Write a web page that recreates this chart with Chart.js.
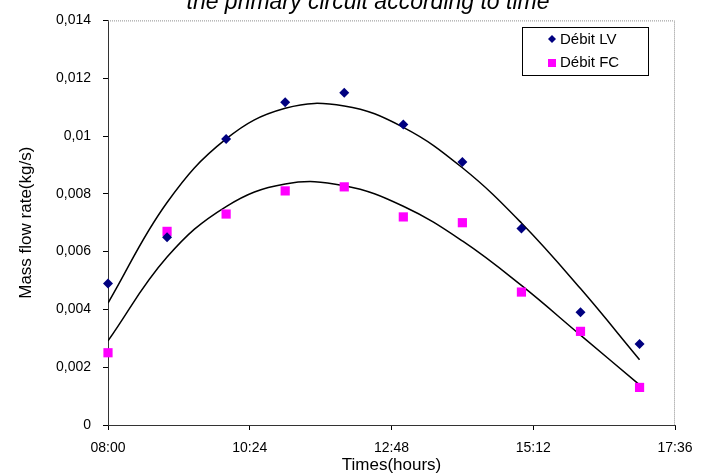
<!DOCTYPE html>
<html><head><meta charset="utf-8">
<script src="https://cdn.jsdelivr.net/npm/chart.js@4.4.0/dist/chart.umd.min.js"></script>
<style>html,body{margin:0;padding:0;background:#fff;}#wrap{width:712px;height:474px;position:relative;}</style>
</head><body><div id="wrap"><canvas id="c" width="712" height="474"></canvas></div>
<script>
// ---- data ----
const chartTitle = 'the primary circuit according to time';
const times = ['08:00','09:00','10:00','11:00','12:00','13:00','14:00','15:00','16:00','17:00'];
const debitLV = [0.0049, 0.0065, 0.0099, 0.01117, 0.0115, 0.0104, 0.0091, 0.0068, 0.0039, 0.0028];
const debitFC = [0.0025, 0.0067, 0.0073, 0.0081, 0.00824, 0.0072, 0.0070, 0.0046, 0.00324, 0.0013];
const trendLV = [0.00422, 0.0077, 0.0099, 0.01096, 0.01104, 0.0103, 0.0089, 0.00699, 0.00472, 0.00226];
const trendFC = [0.00291, 0.00581, 0.00756, 0.00834, 0.00828, 0.00757, 0.00637, 0.00483, 0.00311, 0.00139];
const xTickLabels = ['08:00','10:24','12:48','15:12','17:36'];
const yTickLabels = ['0','0,002','0,004','0,006','0,008','0,01','0,012','0,014'];
const yTickValues = [0, 0.002, 0.004, 0.006, 0.008, 0.010, 0.012, 0.014];
const seriesNames = ['Débit LV', 'Débit FC'];
const xTitle = 'Times(hours)';
const yTitle = 'Mass flow rate(kg/s)';

const toH = s => { const [h, m] = s.split(':').map(Number); return h + m / 60; };
const xs = times.map(toH);
const xTickValues = xTickLabels.map(toH);
const pts = arr => arr.map((v, i) => ({x: xs[i], y: v}));

const FONT = "'Liberation Sans', Arial, sans-serif";
const NAVY = '#000080', MAGENTA = '#FF00FF';

const decor = {
  id: 'decor',
  beforeDatasetsDraw(chart) {
    const {ctx, chartArea: a} = chart;
    ctx.save();
    ctx.strokeStyle = '#8c8c8c';
    ctx.lineWidth = 1;
    ctx.setLineDash([1, 1]);
    ctx.beginPath();
    ctx.moveTo(a.left, a.top + 0.5);
    ctx.lineTo(a.right - 0.5, a.top + 0.5);
    ctx.lineTo(a.right - 0.5, a.bottom);
    ctx.stroke();
    ctx.restore();
  },
  afterDraw(chart) {
    const {ctx} = chart;
    ctx.save();
    // title (second line, partly cut at top)
    ctx.fillStyle = '#000';
    ctx.font = "italic 23px " + FONT;
    ctx.textAlign = 'center';
    ctx.textBaseline = 'alphabetic';
    ctx.fillText(chartTitle, 368, 9);
    // legend
    const bx = 522, by = 27, bw = 126, bh = 48;
    ctx.fillStyle = '#fff';
    ctx.fillRect(bx, by, bw, bh);
    ctx.strokeStyle = '#000';
    ctx.lineWidth = 1;
    ctx.strokeRect(bx + 0.5, by + 0.5, bw, bh);
    ctx.fillStyle = NAVY;
    ctx.beginPath();
    ctx.moveTo(552, 35); ctx.lineTo(556, 39); ctx.lineTo(552, 43); ctx.lineTo(548, 39); ctx.closePath();
    ctx.fill();
    ctx.fillStyle = MAGENTA;
    ctx.fillRect(548, 59, 8, 8);
    ctx.fillStyle = '#000';
    ctx.font = "15px " + FONT;
    ctx.textAlign = 'left';
    ctx.textBaseline = 'middle';
    ctx.fillText(seriesNames[0], 560, 40);
    ctx.fillText(seriesNames[1], 560, 63);
    ctx.restore();
  }
};

new Chart(document.getElementById('c'), {
  type: 'scatter',
  data: {
    datasets: [
      {label: seriesNames[0], data: pts(debitLV), pointStyle: 'rectRot', pointRadius: 5, pointHoverRadius: 5,
       backgroundColor: NAVY, borderColor: NAVY, borderWidth: 0, order: 1, clip: false},
      {label: seriesNames[1], data: pts(debitFC), pointStyle: 'rect', pointRadius: 6.5, pointHoverRadius: 6.5,
       backgroundColor: MAGENTA, borderColor: MAGENTA, borderWidth: 0, order: 1, clip: false},
      {label: 'trend LV', data: pts(trendLV), showLine: true, pointRadius: 0, borderColor: '#000',
       borderWidth: 1.5, tension: 0.4, fill: false, order: 2},
      {label: 'trend FC', data: pts(trendFC), showLine: true, pointRadius: 0, borderColor: '#000',
       borderWidth: 1.5, tension: 0.4, fill: false, order: 2}
    ]
  },
  options: {
    responsive: false,
    animation: false,
    events: [],
    layout: {padding: {left: 0, right: 37, top: 15, bottom: 0}},
    plugins: {legend: {display: false}, tooltip: {enabled: false}, title: {display: false}},
    scales: {
      x: {
        type: 'linear', min: xTickValues[0], max: xTickValues[xTickValues.length - 1],
        afterBuildTicks: ax => { ax.ticks = xTickValues.map(v => ({value: v})); },
        afterFit: ax => { ax.height = 49; },
        ticks: {callback: (v, i) => xTickLabels[i], color: '#000', font: {family: FONT, size: 14},
                padding: 10, maxRotation: 0, autoSkip: false},
        grid: {drawOnChartArea: false, drawTicks: true, tickLength: 5, color: '#000'},
        border: {display: true, color: '#333', width: 1},
        title: {display: true, text: xTitle, color: '#000', font: {family: FONT, size: 17, lineHeight: 1},
                padding: {top: 0, bottom: 0}}
      },
      y: {
        type: 'linear', min: 0, max: 0.014,
        afterBuildTicks: ax => { ax.ticks = yTickValues.map(v => ({value: v})); },
        afterFit: ax => { ax.width = 108; },
        ticks: {callback: (v, i) => yTickLabels[i], color: '#000', font: {family: FONT, size: 14}, padding: 12},
        grid: {drawOnChartArea: false, drawTicks: true, tickLength: 5, color: '#000'},
        border: {display: true, color: '#333', width: 1},
        title: {display: true, text: yTitle, color: '#000', font: {family: FONT, size: 17, lineHeight: 1},
                padding: {top: 18, bottom: 0}}
      }
    }
  },
  plugins: [decor]
});
</script></body></html>
